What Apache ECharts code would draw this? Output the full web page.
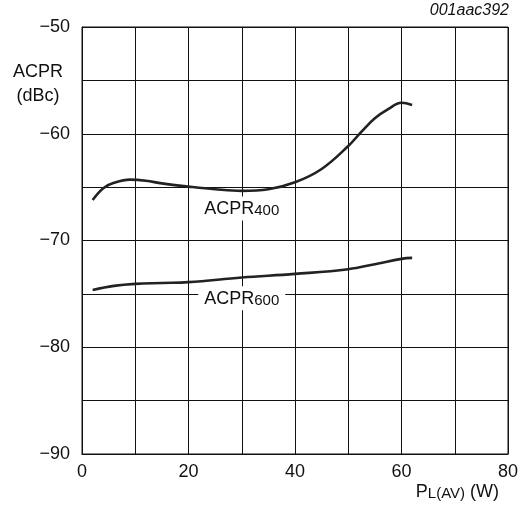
<!DOCTYPE html>
<html>
<head>
<meta charset="utf-8">
<script src="https://cdn.jsdelivr.net/npm/echarts@6/dist/echarts.min.js"></script>
<style>html,body{margin:0;padding:0;background:#fff}#c{width:521px;height:507px}</style>
</head>
<body>
<div id="c"></div>
<script>
const acpr400X = [2, 4, 6, 9, 12, 15, 20, 25, 30, 35, 40, 45, 50, 52.5, 55, 57.5, 60, 62];
const acpr400Y = [-66.2, -65.1, -64.6, -64.3, -64.4, -64.65, -64.95, -65.2, -65.35, -65.2, -64.55, -63.3, -61.15, -59.8, -58.55, -57.7, -57.1, -57.3];
const acpr600X = [2, 6, 10, 15, 20, 30, 40, 50, 55, 60, 62];
const acpr600Y = [-74.63, -74.25, -74.06, -73.98, -73.9, -73.47, -73.13, -72.69, -72.22, -71.72, -71.63];
const xTicks = [0, 20, 40, 60, 80];
const yTicks = [-90, -80, -70, -60, -50];

const FONT = 'Liberation Sans, Arial, Helvetica, sans-serif';
const zip = (xs, ys) => xs.map((x, i) => [x, ys[i]]);
const minus = v => String(v).replace('-', '\u2212');

const labelRich = {
  m: {fontFamily: FONT, fontSize: 18, color: '#111', lineHeight: 18, verticalAlign: 'top'},
  s: {fontFamily: FONT, fontSize: 15, color: '#111', lineHeight: 15, padding: [9, 0, 0, 0], verticalAlign: 'bottom'}
};

function curveLabel(coord, main, sub) {
  return {
    symbol: 'circle', symbolSize: 0,
    label: {show: true, position: 'inside', formatter: '{m|' + main + '}{s|' + sub + '}',
      rich: labelRich, backgroundColor: '#fff', padding: [4, 6, 2, 6]},
    data: [{coord: coord}]
  };
}

const chart = echarts.init(document.getElementById('c'), null, {renderer: 'canvas'});
chart.setOption({
  animation: false,
  backgroundColor: '#fff',
  grid: {left: 82, right: 13, top: 27, bottom: 53, show: true, borderColor: '#111', borderWidth: 1,
    containLabel: false, outerBoundsMode: 'none'},
  xAxis: {
    type: 'value', min: 0, max: 80, interval: 10,
    axisLine: {show: true, lineStyle: {color: '#111', width: 1}},
    axisTick: {show: false},
    splitLine: {show: true, lineStyle: {color: '#111', width: 1}},
    axisLabel: {
      margin: 9, color: '#111', fontFamily: FONT, fontSize: 18,
      formatter: v => xTicks.includes(v) ? minus(v) : ''
    }
  },
  yAxis: {
    type: 'value', min: -90, max: -50, interval: 5,
    axisLine: {show: true, lineStyle: {color: '#111', width: 1}},
    axisTick: {show: false},
    splitLine: {show: true, lineStyle: {color: '#111', width: 1}},
    axisLabel: {
      margin: 12, color: '#111', fontFamily: FONT, fontSize: 18,
      formatter: v => yTicks.includes(v) ? minus(v) : ''
    }
  },
  graphic: [
    {type: 'text', x: 38, y: 60, style: {text: 'ACPR\n(dBc)', fill: '#111', font: '18px ' + FONT, textAlign: 'center', textVerticalAlign: 'top', lineHeight: 24}},
    {type: 'text', x: 509, y: 3, style: {text: '001aac392', fill: '#111', font: 'italic 16px ' + FONT, textAlign: 'right', textVerticalAlign: 'top'}},
    {type: 'text', x: 499, y: 483, style: {text: '{m|P}{s|L(AV)}{m| (W)}', rich: labelRich, fill: '#111', textAlign: 'right', textVerticalAlign: 'top'}}
  ],
  series: [
    {
      name: 'ACPR400', type: 'line', data: zip(acpr400X, acpr400Y), smooth: 0.4, symbol: 'none',
      lineStyle: {color: '#222', width: 2.6}, z: 3,
      markPoint: curveLabel([30, -67.0], 'ACPR', '400')
    },
    {
      name: 'ACPR600', type: 'line', data: zip(acpr600X, acpr600Y), smooth: 0.4, symbol: 'none',
      lineStyle: {color: '#222', width: 2.6}, z: 3,
      markPoint: curveLabel([30, -75.4], 'ACPR', '600')
    }
  ]
});
</script>
</body>
</html>
